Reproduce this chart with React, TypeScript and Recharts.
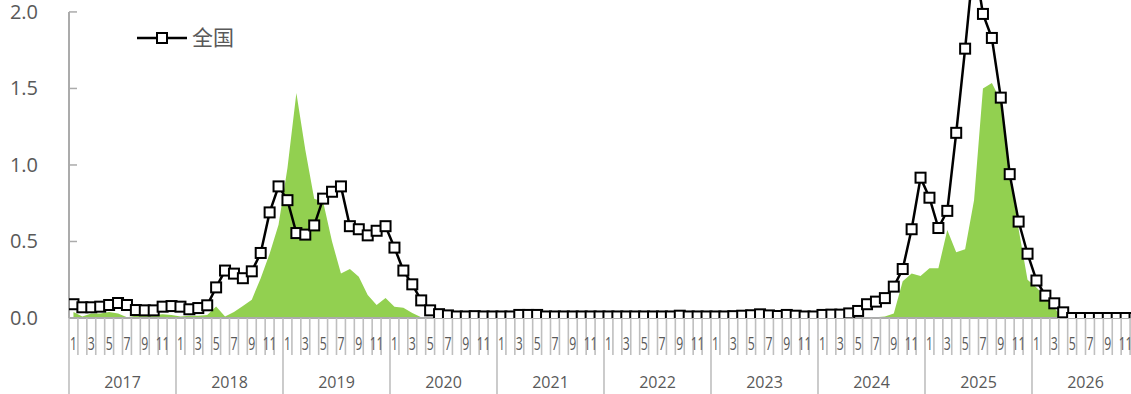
import { ComposedChart, Line, Area, XAxis, YAxis, Legend, ReferenceLine } from 'recharts';

const years = [2017, 2018, 2019, 2020, 2021, 2022, 2023, 2024, 2025, 2026];
const months = [1, 2, 3, 4, 5, 6, 7, 8, 9, 10, 11, 12];
const yTicks = [0, 0.5, 1.0, 1.5, 2.0];

// 全国 (line with squares), one value per month from 2017-01
const national = [
  0.09, 0.07, 0.07, 0.074, 0.085, 0.098, 0.085, 0.052, 0.05, 0.05, 0.074, 0.078,
  0.074, 0.057, 0.065, 0.083, 0.2, 0.31, 0.29, 0.26, 0.305, 0.425, 0.69, 0.86,
  0.77, 0.555, 0.545, 0.605, 0.78, 0.825, 0.86, 0.6, 0.58, 0.54, 0.57, 0.6,
  0.46, 0.31, 0.22, 0.115, 0.05, 0.025, 0.017, 0.01, 0.01, 0.012, 0.01, 0.01,
  0.01, 0.01, 0.02, 0.02, 0.02, 0.01, 0.01, 0.01, 0.01, 0.01, 0.01, 0.01,
  0.01, 0.01, 0.01, 0.01, 0.01, 0.01, 0.01, 0.01, 0.015, 0.01, 0.01, 0.01,
  0.01, 0.01, 0.012, 0.015, 0.018, 0.024, 0.017, 0.013, 0.02, 0.015, 0.01, 0.01,
  0.02, 0.022, 0.022, 0.03, 0.046, 0.09, 0.107, 0.13, 0.205, 0.32, 0.58, 0.917,
  0.786, 0.588, 0.7, 1.21, 1.76, 2.35, 1.987, 1.83, 1.44, 0.94, 0.63, 0.42,
  0.245, 0.146, 0.096, 0.037, 0, 0, 0, 0, 0, 0, 0, 0,
];

// green area series
const area = [
  0.04, 0.01, 0.03, 0.03, 0.04, 0.03, 0.005, 0.015, 0.02, 0.02, 0.025, 0.02,
  0.01, 0.015, 0.015, 0.02, 0.075, 0.01, 0.04, 0.078, 0.12, 0.26, 0.42, 0.61,
  0.98, 1.47, 1.1, 0.78, 0.76, 0.5, 0.29, 0.32, 0.27, 0.15, 0.085, 0.13,
  0.074, 0.067, 0.033, 0.005, 0, 0, 0, 0, 0, 0, 0, 0,
  0, 0, 0, 0, 0, 0, 0, 0, 0, 0, 0, 0,
  0, 0, 0, 0, 0, 0, 0, 0, 0, 0, 0, 0,
  0, 0, 0, 0, 0, 0, 0, 0, 0, 0, 0, 0,
  0, 0, 0, 0, 0, 0, 0.005, 0.01, 0.03, 0.24, 0.29, 0.275,
  0.325, 0.325, 0.575, 0.43, 0.45, 0.77, 1.5, 1.535, 1.42, 0.95, 0.58, 0.25,
  0.2, 0.14, 0.065, 0, 0, 0, 0, 0, 0, 0, 0, 0,
];

const data = national.map((v, i) => ({ idx: i, nat: v, pos: area[i] }));

// month boundaries get a tick line, odd months get a label
const n = years.length * months.length;
const xTicks: number[] = [];
for (let i = 0; i <= n; i++) xTicks.push(i - 0.5);
for (let i = 0; i < n; i++) if (months[i % 12] % 2 === 1) xTicks.push(i);

const GREY = '#595959';
const AXIS = '#ABABAB';

function MonthTick(props: any) {
  const { x, y, payload } = props;
  const v = payload.value;
  if (!Number.isInteger(v)) {
    const b = v + 0.5;
    const yearEdge = b % 12 === 0;
    return (
      <g>
        <line x1={x} y1={y} x2={x} y2={y + (yearEdge ? 76 : 37)} stroke="#BFBFBF" strokeWidth={1.6} />
        {b % 12 === 6 && (
          <text x={x} y={y + 70} textAnchor="middle" fontSize={16} fill={GREY}>
            {years[Math.floor(b / 12)]}
          </text>
        )}
      </g>
    );
  }
  return (
    <text transform={`translate(${x},${y + 32}) scale(0.68,1)`} textAnchor="middle" fontSize={18} fill={GREY}>
      {months[v % 12]}
    </text>
  );
}

function ValueTick(props: any) {
  const { x, y, payload } = props;
  return (
    <g>
      <line x1={x} y1={y} x2={x + 8} y2={y} stroke={AXIS} strokeWidth={1.5} />
      <text x={x - 31} y={y + 7} textAnchor="end" fontSize={20} fill={GREY}>
        {Number(payload.value).toFixed(1)}
      </text>
    </g>
  );
}

function SquareDot(props: any) {
  const { cx, cy, index } = props;
  if (cx == null || cy == null) return <g key={`d${index}`} />;
  return <rect key={`d${index}`} x={cx - 5} y={cy - 5} width={10} height={10} fill="#fff" stroke="#000" strokeWidth={2} />;
}

function LegendBox(props: any) {
  const items = (props.payload || []).filter((p: any) => p.type !== 'none');
  return (
    <div style={{ display: 'flex' }}>
      {items.map((p: any, i: number) => (
        <svg key={i} width={110} height={30}>
          <line x1={0} y1={15} x2={50} y2={15} stroke="#000" strokeWidth={2.5} />
          <rect x={20} y={10} width={10} height={10} fill="#fff" stroke="#000" strokeWidth={2} />
          <text x={55} y={22} fontSize={21} fill={GREY}>{p.value}</text>
        </svg>
      ))}
    </div>
  );
}

export default function App() {
  return (
    <div
      style={{
        position: 'absolute', left: 0, top: 0, width: 1131, height: 394, overflow: 'hidden',
        background: '#fff', fontFamily: '"Open Sans", "Noto Sans CJK SC", sans-serif',
      }}
    >
      <ComposedChart width={1149} height={394} data={data} margin={{ top: 0, right: 10, bottom: 0, left: 0 }}>
        <XAxis
          xAxisId="m"
          type="number"
          dataKey="idx"
          domain={[-0.5, n - 0.5]}
          allowDataOverflow
          ticks={xTicks}
          interval={0}
          height={76}
          tickSize={0}
          tickMargin={0}
          tickLine={false}
          axisLine={{ stroke: AXIS, strokeWidth: 2 }}
          tick={MonthTick}
        />
        <YAxis
          domain={[0, 2.078]}
          allowDataOverflow
          ticks={yTicks}
          interval={0}
          width={69}
          tickSize={0}
          tickMargin={0}
          tickLine={false}
          axisLine={false}
          tick={ValueTick}
        />
        <Legend
          layout="horizontal"
          verticalAlign="middle"
          align="center"
          content={LegendBox}
          wrapperStyle={{ top: 23, left: 137, width: 120 }}
        />
        <Area
          xAxisId="m"
          dataKey="pos"
          type="linear"
          fill="#92D050"
          fillOpacity={1}
          stroke="none"
          legendType="none"
          isAnimationActive={false}
        />
        <Line
          xAxisId="m"
          dataKey="nat"
          name="全国"
          type="linear"
          stroke="#000"
          strokeWidth={2.5}
          dot={SquareDot}
          activeDot={false}
          isAnimationActive={false}
        />
        <ReferenceLine
          xAxisId="m"
          segment={[{ x: -0.5, y: 0 }, { x: -0.5, y: 2 }]}
          stroke={AXIS}
          strokeWidth={2}
        />
      </ComposedChart>
    </div>
  );
}
